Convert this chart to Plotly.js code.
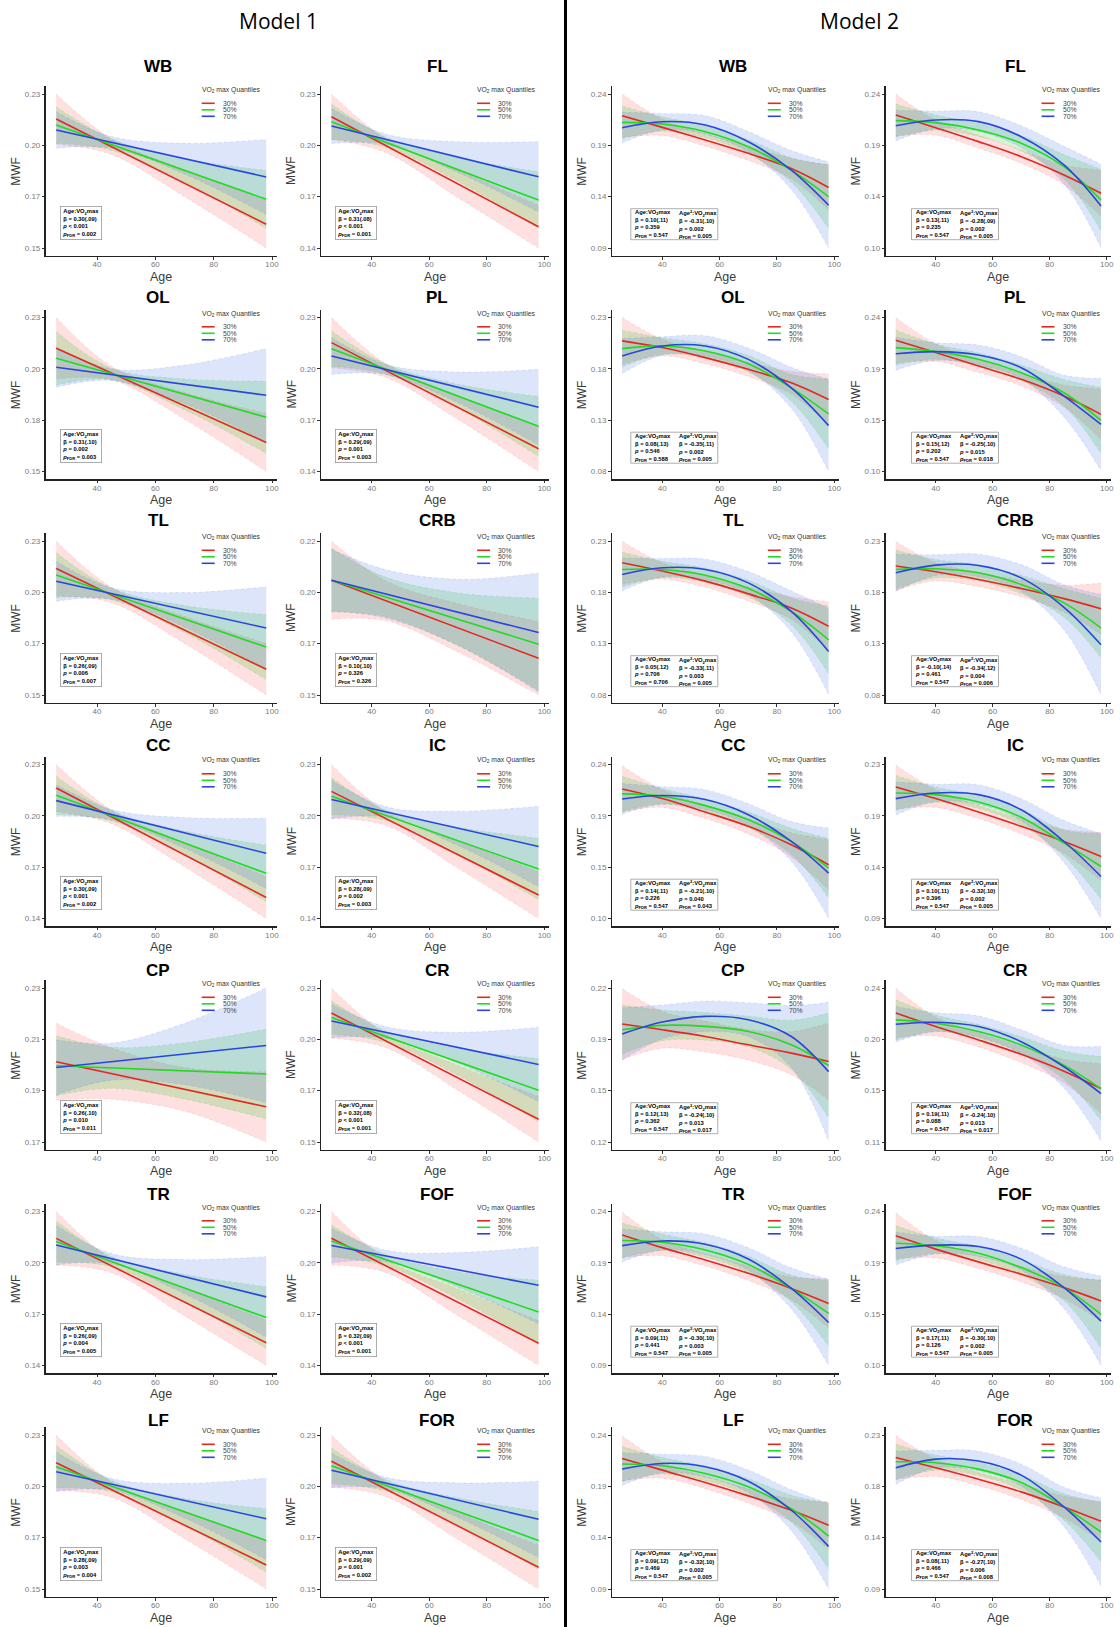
<!DOCTYPE html>
<html><head><meta charset="utf-8">
<script src="https://cdn.plot.ly/plotly-3.0.1.min.js"></script>
<style>html,body{margin:0;padding:0;background:#fff}#chart{width:1120px;height:1627px}</style>
</head><body><div id="chart"></div>
<script>
// ---------------- DATA ----------------
const regions = ['WB','FL','OL','PL','TL','CRB','CC','IC','CP','CR','TR','FOF','LF','FOR'];
const quantiles = ['30%','50%','70%'];
const ageLine1 = [26, 98];              // Model 1 fitted lines (linear)
const ageBand1 = [26, 45, 70, 98];      // Model 1 confidence bands
const ageCurve2 = [26, 40, 55, 70, 85, 98]; // Model 2 fits and bands

// Model 1: rows = [30%, 50%, 70%]
const m1WB_fit = [[0.2170,0.1623],[0.2139,0.1753],[0.2113,0.1869]];
const m1WB_lo  = [[0.2040,0.1986,0.1766,0.1500],[0.2044,0.2007,0.1843,0.1603],[0.2018,0.2019,0.1884,0.1674]];
const m1WB_hi  = [[0.2300,0.2066,0.1906,0.1746],[0.2234,0.2067,0.1963,0.1903],[0.2208,0.2079,0.2044,0.2064]];
const m1WB_ticks = ['0.15','0.17','0.20','0.23'];

const m1FL_fit = [[0.2167,0.1524],[0.2138,0.1680],[0.2113,0.1816]];
const m1FL_lo  = [[0.2034,0.1957,0.1694,0.1400],[0.2035,0.1987,0.1788,0.1514],[0.2010,0.2005,0.1841,0.1611]];
const m1FL_hi  = [[0.2300,0.2037,0.1854,0.1649],[0.2241,0.2047,0.1928,0.1846],[0.2216,0.2065,0.2021,0.2021]];
const m1FL_ticks = ['0.14','0.17','0.20','0.23'];

const m1OL_fit = [[0.2140,0.1651],[0.2088,0.1782],[0.2042,0.1896]];
const m1OL_lo  = [[0.1980,0.1976,0.1771,0.1500],[0.1949,0.1977,0.1821,0.1594],[0.1938,0.1973,0.1853,0.1653]];
const m1OL_hi  = [[0.2300,0.2046,0.1911,0.1802],[0.2227,0.2037,0.1981,0.1970],[0.2146,0.2033,0.2053,0.2139]];
const m1OL_ticks = ['0.15','0.18','0.20','0.23'];

const m1PL_fit = [[0.2153,0.1533],[0.2118,0.1664],[0.2075,0.1776]];
const m1PL_lo  = [[0.2006,0.1949,0.1704,0.1400],[0.2014,0.1968,0.1770,0.1488],[0.1967,0.1966,0.1802,0.1555]];
const m1PL_hi  = [[0.2300,0.2029,0.1844,0.1666],[0.2222,0.2028,0.1910,0.1840],[0.2183,0.2026,0.1982,0.1997]];
const m1PL_ticks = ['0.14','0.17','0.20','0.23'];

const m1TL_fit = [[0.2157,0.1634],[0.2123,0.1749],[0.2091,0.1848]];
const m1TL_lo  = [[0.2014,0.1979,0.1768,0.1500],[0.2006,0.1994,0.1825,0.1580],[0.1987,0.1997,0.1852,0.1634]];
const m1TL_hi  = [[0.2300,0.2059,0.1908,0.1768],[0.2240,0.2054,0.1965,0.1918],[0.2195,0.2057,0.2032,0.2062]];
const m1TL_ticks = ['0.15','0.17','0.20','0.23'];

const m1CRB_fit = [[0.2022,0.1667],[0.2022,0.1731],[0.2022,0.1784]];
const m1CRB_lo  = [[0.1844,0.1838,0.1695,0.1500],[0.1877,0.1855,0.1724,0.1521],[0.1882,0.1849,0.1726,0.1514]];
const m1CRB_hi  = [[0.2200,0.2018,0.1915,0.1834],[0.2167,0.2035,0.1964,0.1941],[0.2162,0.2069,0.2026,0.2054]];
const m1CRB_ticks = ['0.15','0.17','0.20','0.22'];

const m1CC_fit = [[0.2163,0.1523],[0.2120,0.1664],[0.2089,0.1781]];
const m1CC_lo  = [[0.2026,0.1954,0.1702,0.1400],[0.2008,0.1970,0.1771,0.1498],[0.1997,0.1977,0.1810,0.1576]];
const m1CC_hi  = [[0.2300,0.2034,0.1842,0.1646],[0.2232,0.2030,0.1911,0.1830],[0.2181,0.2037,0.1990,0.1986]];
const m1CC_ticks = ['0.14','0.17','0.20','0.23'];

const m1IC_fit = [[0.2143,0.1537],[0.2114,0.1689],[0.2095,0.1821]];
const m1IC_lo  = [[0.1986,0.1943,0.1693,0.1400],[0.2006,0.1972,0.1774,0.1509],[0.1982,0.1993,0.1827,0.1586]];
const m1IC_hi  = [[0.2300,0.2023,0.1853,0.1674],[0.2222,0.2032,0.1934,0.1869],[0.2208,0.2053,0.2027,0.2056]];
const m1IC_ticks = ['0.14','0.17','0.20','0.23'];

const m1CP_fit = [[0.2013,0.1837],[0.1997,0.1965],[0.1990,0.2076]];
const m1CP_lo  = [[0.1863,0.1867,0.1820,0.1700],[0.1880,0.1909,0.1867,0.1790],[0.1883,0.1941,0.1923,0.1853]];
const m1CP_hi  = [[0.2163,0.2067,0.1990,0.1974],[0.2114,0.2069,0.2087,0.2140],[0.2097,0.2085,0.2163,0.2300]];
const m1CP_ticks = ['0.17','0.19','0.21','0.23'];

const m1CR_fit = [[0.2170,0.1618],[0.2147,0.1769],[0.2129,0.1903]];
const m1CR_lo  = [[0.2040,0.1989,0.1768,0.1500],[0.2060,0.2017,0.1846,0.1604],[0.2042,0.2039,0.1910,0.1710]];
const m1CR_hi  = [[0.2300,0.2059,0.1898,0.1736],[0.2234,0.2077,0.1986,0.1934],[0.2216,0.2099,0.2070,0.2096]];
const m1CR_ticks = ['0.15','0.17','0.20','0.23'];

const m1TR_fit = [[0.2143,0.1533],[0.2124,0.1680],[0.2104,0.1801]];
const m1TR_lo  = [[0.1986,0.1942,0.1690,0.1400],[0.2003,0.1977,0.1773,0.1500],[0.1988,0.1994,0.1819,0.1566]];
const m1TR_hi  = [[0.2300,0.2022,0.1850,0.1666],[0.2245,0.2037,0.1933,0.1860],[0.2220,0.2054,0.2019,0.2036]];
const m1TR_ticks = ['0.14','0.17','0.20','0.23'];

const m1FOF_fit = [[0.2061,0.1516],[0.2047,0.1678],[0.2023,0.1817]];
const m1FOF_lo  = [[0.1922,0.1882,0.1658,0.1400],[0.1964,0.1917,0.1746,0.1513],[0.1933,0.1939,0.1807,0.1617]];
const m1FOF_hi  = [[0.2200,0.1952,0.1798,0.1633],[0.2130,0.1977,0.1886,0.1843],[0.2113,0.1999,0.1987,0.2017]];
const m1FOF_ticks = ['0.14','0.17','0.20','0.22'];

const m1LF_fit = [[0.2156,0.1625],[0.2135,0.1752],[0.2109,0.1865]];
const m1LF_lo  = [[0.2012,0.1976,0.1761,0.1500],[0.2025,0.2004,0.1830,0.1587],[0.2006,0.2014,0.1869,0.1653]];
const m1LF_hi  = [[0.2300,0.2056,0.1901,0.1750],[0.2245,0.2064,0.1970,0.1917],[0.2212,0.2074,0.2049,0.2077]];
const m1LF_ticks = ['0.15','0.17','0.20','0.23'];

const m1FOR_fit = [[0.2164,0.1613],[0.2140,0.1752],[0.2117,0.1862]];
const m1FOR_lo  = [[0.2028,0.1979,0.1757,0.1500],[0.2046,0.2008,0.1833,0.1601],[0.2027,0.2020,0.1871,0.1664]];
const m1FOR_hi  = [[0.2300,0.2059,0.1897,0.1726],[0.2234,0.2068,0.1973,0.1903],[0.2207,0.2080,0.2051,0.2060]];
const m1FOR_ticks = ['0.15','0.17','0.20','0.23'];

// Model 2: rows = [30%, 50%, 70%], at ageCurve2
const m2WB_fit = [[0.2189,0.2075,0.1952,0.1822,0.1675,0.1490],[0.2124,0.2108,0.2033,0.1887,0.1659,0.1400],[0.2072,0.2130,0.2098,0.1935,0.1659,0.1318]];
const m2WB_lo  = [[0.1979,0.1995,0.1892,0.1752,0.1575,0.1270],[0.1964,0.2038,0.1973,0.1817,0.1539,0.1090],[0.1922,0.2050,0.2008,0.1835,0.1469,0.0900]];
const m2WB_hi  = [[0.2400,0.2155,0.2012,0.1892,0.1775,0.1710],[0.2284,0.2178,0.2093,0.1957,0.1779,0.1710],[0.2222,0.2210,0.2188,0.2035,0.1849,0.1738]];
const m2WB_ticks = ['0.09','0.14','0.19','0.24'];

const m2FL_fit = [[0.2209,0.2094,0.1967,0.1830,0.1664,0.1497],[0.2158,0.2140,0.2073,0.1952,0.1740,0.1436],[0.2112,0.2164,0.2149,0.2012,0.1755,0.1382]];
const m2FL_lo  = [[0.2019,0.2024,0.1907,0.1770,0.1574,0.1287],[0.2008,0.2070,0.2013,0.1882,0.1630,0.1156],[0.1972,0.2084,0.2059,0.1912,0.1585,0.1002]];
const m2FL_hi  = [[0.2400,0.2164,0.2027,0.1890,0.1754,0.1707],[0.2308,0.2210,0.2133,0.2022,0.1850,0.1716],[0.2252,0.2244,0.2239,0.2112,0.1925,0.1762]];
const m2FL_ticks = ['0.10','0.14','0.19','0.24'];

const m2OL_fit = [[0.2072,0.2007,0.1909,0.1795,0.1664,0.1501],[0.1997,0.2023,0.1974,0.1850,0.1615,0.1361],[0.1925,0.2023,0.2023,0.1892,0.1615,0.1247]];
const m2OL_lo  = [[0.1842,0.1927,0.1849,0.1725,0.1554,0.1251],[0.1817,0.1943,0.1904,0.1770,0.1485,0.1021],[0.1755,0.1933,0.1923,0.1782,0.1415,0.0800]];
const m2OL_hi  = [[0.2300,0.2087,0.1969,0.1865,0.1774,0.1751],[0.2177,0.2103,0.2044,0.1930,0.1745,0.1701],[0.2095,0.2113,0.2123,0.2002,0.1815,0.1697]];
const m2OL_ticks = ['0.08','0.13','0.18','0.23'];

const m2PL_fit = [[0.2193,0.2081,0.1959,0.1838,0.1686,0.1519],[0.2126,0.2090,0.2020,0.1898,0.1716,0.1464],[0.2071,0.2090,0.2059,0.1944,0.1686,0.1428]];
const m2PL_lo  = [[0.1983,0.2001,0.1899,0.1778,0.1586,0.1289],[0.1966,0.2020,0.1960,0.1828,0.1596,0.1164],[0.1921,0.2010,0.1969,0.1844,0.1496,0.1008]];
const m2PL_hi  = [[0.2400,0.2161,0.2019,0.1898,0.1786,0.1749],[0.2286,0.2160,0.2080,0.1968,0.1836,0.1764],[0.2221,0.2170,0.2149,0.2044,0.1876,0.1848]];
const m2PL_ticks = ['0.10','0.15','0.19','0.24'];

const m2TL_fit = [[0.2088,0.2007,0.1909,0.1785,0.1648,0.1469],[0.2023,0.2023,0.1967,0.1837,0.1615,0.1338],[0.1974,0.2039,0.2023,0.1892,0.1615,0.1224]];
const m2TL_lo  = [[0.1878,0.1927,0.1849,0.1715,0.1538,0.1229],[0.1853,0.1943,0.1897,0.1757,0.1485,0.1008],[0.1814,0.1949,0.1923,0.1782,0.1415,0.0804]];
const m2TL_hi  = [[0.2298,0.2087,0.1969,0.1855,0.1758,0.1709],[0.2193,0.2103,0.2037,0.1917,0.1745,0.1668],[0.2134,0.2129,0.2123,0.2002,0.1815,0.1644]];
const m2TL_ticks = ['0.08','0.13','0.18','0.23'];

const m2CRB_fit = [[0.2056,0.2000,0.1925,0.1837,0.1739,0.1641],[0.2023,0.2029,0.1990,0.1876,0.1697,0.1452],[0.1990,0.2065,0.2062,0.1941,0.1654,0.1289]];
const m2CRB_lo  = [[0.1816,0.1910,0.1855,0.1757,0.1609,0.1391],[0.1833,0.1939,0.1910,0.1786,0.1557,0.1162],[0.1810,0.1965,0.1952,0.1811,0.1434,0.0800]];
const m2CRB_hi  = [[0.2296,0.2090,0.1995,0.1917,0.1869,0.1891],[0.2213,0.2119,0.2070,0.1966,0.1837,0.1742],[0.2170,0.2165,0.2172,0.2071,0.1874,0.1779]];
const m2CRB_ticks = ['0.08','0.13','0.18','0.23'];

const m2CC_fit = [[0.2178,0.2090,0.1968,0.1838,0.1670,0.1488],[0.2133,0.2111,0.2026,0.1898,0.1701,0.1458],[0.2087,0.2118,0.2081,0.1944,0.1701,0.1413]];
const m2CC_lo  = [[0.1968,0.2010,0.1908,0.1768,0.1560,0.1258],[0.1973,0.2041,0.1966,0.1828,0.1581,0.1188],[0.1947,0.2038,0.1991,0.1844,0.1521,0.1003]];
const m2CC_hi  = [[0.2388,0.2170,0.2028,0.1908,0.1780,0.1718],[0.2293,0.2181,0.2086,0.1968,0.1821,0.1728],[0.2227,0.2198,0.2171,0.2044,0.1881,0.1823]];
const m2CC_ticks = ['0.10','0.15','0.19','0.24'];

const m2IC_fit = [[0.2096,0.1990,0.1868,0.1738,0.1600,0.1464],[0.2041,0.2026,0.1959,0.1820,0.1585,0.1373],[0.1990,0.2041,0.2026,0.1889,0.1600,0.1282]];
const m2IC_lo  = [[0.1896,0.1910,0.1808,0.1668,0.1490,0.1244],[0.1881,0.1956,0.1899,0.1750,0.1465,0.1073],[0.1840,0.1961,0.1936,0.1789,0.1410,0.0900]];
const m2IC_hi  = [[0.2296,0.2070,0.1928,0.1808,0.1710,0.1684],[0.2201,0.2096,0.2019,0.1890,0.1705,0.1673],[0.2140,0.2121,0.2116,0.1989,0.1790,0.1672]];
const m2IC_ticks = ['0.09','0.14','0.19','0.23'];

const m2CP_fit = [[0.1966,0.1929,0.1885,0.1831,0.1777,0.1723],[0.1929,0.1957,0.1951,0.1918,0.1831,0.1697],[0.1901,0.1979,0.2016,0.1994,0.1885,0.1657]];
const m2CP_lo  = [[0.1736,0.1809,0.1785,0.1731,0.1637,0.1473],[0.1769,0.1857,0.1861,0.1818,0.1671,0.1357],[0.1731,0.1869,0.1916,0.1884,0.1685,0.1207]];
const m2CP_hi  = [[0.2196,0.2049,0.1985,0.1931,0.1917,0.1973],[0.2089,0.2057,0.2041,0.2018,0.1991,0.2037],[0.2071,0.2089,0.2116,0.2104,0.2085,0.2107]];
const m2CP_ticks = ['0.12','0.15','0.19','0.22'];

const m2CR_fit = [[0.2188,0.2075,0.1962,0.1840,0.1698,0.1551],[0.2131,0.2103,0.2033,0.1919,0.1749,0.1551],[0.2094,0.2111,0.2075,0.1947,0.1735,0.1509]];
const m2CR_lo  = [[0.1978,0.1995,0.1902,0.1770,0.1598,0.1341],[0.1961,0.2033,0.1973,0.1849,0.1629,0.1281],[0.1944,0.2031,0.1985,0.1847,0.1555,0.1109]];
const m2CR_hi  = [[0.2398,0.2155,0.2022,0.1910,0.1798,0.1761],[0.2301,0.2173,0.2093,0.1989,0.1869,0.1821],[0.2244,0.2191,0.2165,0.2047,0.1915,0.1909]];
const m2CR_ticks = ['0.11','0.15','0.20','0.24'];

const m2TR_fit = [[0.2172,0.2048,0.1928,0.1798,0.1651,0.1505],[0.2117,0.2100,0.2025,0.1885,0.1651,0.1407],[0.2068,0.2113,0.2081,0.1937,0.1651,0.1319]];
const m2TR_lo  = [[0.1952,0.1968,0.1868,0.1728,0.1541,0.1265],[0.1947,0.2020,0.1955,0.1805,0.1521,0.1087],[0.1908,0.2023,0.1981,0.1827,0.1451,0.0900]];
const m2TR_hi  = [[0.2392,0.2128,0.1988,0.1868,0.1761,0.1745],[0.2287,0.2180,0.2095,0.1965,0.1781,0.1727],[0.2228,0.2203,0.2181,0.2047,0.1851,0.1739]];
const m2TR_ticks = ['0.09','0.14','0.19','0.24'];

const m2FOF_fit = [[0.2179,0.2058,0.1942,0.1830,0.1708,0.1587],[0.2112,0.2088,0.2021,0.1890,0.1708,0.1465],[0.2064,0.2094,0.2082,0.1967,0.1708,0.1404]];
const m2FOF_lo  = [[0.1969,0.1978,0.1882,0.1760,0.1608,0.1397],[0.1952,0.2018,0.1961,0.1820,0.1588,0.1155],[0.1914,0.2014,0.1992,0.1867,0.1518,0.1000]];
const m2FOF_hi  = [[0.2389,0.2138,0.2002,0.1900,0.1808,0.1777],[0.2272,0.2158,0.2081,0.1960,0.1828,0.1775],[0.2214,0.2174,0.2172,0.2067,0.1898,0.1814]];
const m2FOF_ticks = ['0.10','0.15','0.19','0.24'];

const m2LF_fit = [[0.2172,0.2058,0.1937,0.1807,0.1667,0.1521],[0.2117,0.2100,0.2025,0.1895,0.1683,0.1416],[0.2068,0.2123,0.2091,0.1950,0.1667,0.1315]];
const m2LF_lo  = [[0.1952,0.1978,0.1877,0.1737,0.1557,0.1291],[0.1947,0.2020,0.1955,0.1815,0.1553,0.1096],[0.1908,0.2033,0.1991,0.1840,0.1467,0.0900]];
const m2LF_hi  = [[0.2392,0.2138,0.1997,0.1877,0.1777,0.1751],[0.2287,0.2180,0.2095,0.1975,0.1813,0.1736],[0.2228,0.2213,0.2191,0.2060,0.1867,0.1735]];
const m2LF_ticks = ['0.09','0.14','0.19','0.24'];

const m2FOR_fit = [[0.2096,0.2002,0.1898,0.1783,0.1646,0.1515],[0.2057,0.2048,0.1990,0.1868,0.1646,0.1418],[0.2002,0.2081,0.2063,0.1935,0.1646,0.1327]];
const m2FOR_lo  = [[0.1896,0.1922,0.1838,0.1713,0.1546,0.1335],[0.1897,0.1978,0.1930,0.1798,0.1526,0.1148],[0.1852,0.2001,0.1973,0.1835,0.1466,0.0927]];
const m2FOR_hi  = [[0.2296,0.2082,0.1958,0.1853,0.1746,0.1695],[0.2217,0.2118,0.2050,0.1938,0.1766,0.1688],[0.2152,0.2161,0.2153,0.2035,0.1826,0.1727]];
const m2FOR_ticks = ['0.09','0.14','0.18','0.23'];

// Statistics text
const m1Beta = ['0.30(.09)','0.31(.08)','0.31(.10)','0.29(.09)','0.26(.09)','0.10(.10)','0.30(.09)','0.28(.09)','0.26(.10)','0.32(.08)','0.26(.09)','0.32(.09)','0.28(.09)','0.29(.09)'];
const m1P = ['&lt; 0.001','&lt; 0.001','= 0.002','= 0.001','= 0.006','= 0.326','&lt; 0.001','= 0.002','= 0.010','&lt; 0.001','= 0.004','&lt; 0.001','= 0.003','= 0.001'];
const m1Pfdr = ['0.002','0.001','0.003','0.003','0.007','0.326','0.002','0.003','0.011','0.001','0.005','0.001','0.004','0.002'];
const m2Beta1 = ['0.10(.11)','0.13(.11)','0.08(.13)','0.15(.12)','0.05(.12)','-0.10(.14)','0.14(.11)','0.10(.11)','0.12(.13)','0.19(.11)','0.09(.11)','0.17(.11)','0.09(.12)','0.08(.11)'];
const m2P1 = ['0.359','0.235','0.546','0.202','0.706','0.461','0.226','0.396','0.362','0.088','0.441','0.126','0.469','0.466'];
const m2Pfdr1 = ['0.547','0.547','0.588','0.547','0.706','0.547','0.547','0.547','0.547','0.547','0.547','0.547','0.547','0.547'];
const m2Beta2 = ['-0.31(.10)','-0.28(.09)','-0.35(.11)','-0.25(.10)','-0.33(.11)','-0.34(.12)','-0.21(.10)','-0.32(.10)','-0.24(.10)','-0.24(.10)','-0.30(.10)','-0.30(.10)','-0.32(.10)','-0.27(.10)'];
const m2P2 = ['0.002','0.002','0.002','0.015','0.003','0.004','0.040','0.002','0.013','0.013','0.003','0.002','0.002','0.006'];
const m2Pfdr2 = ['0.005','0.005','0.005','0.018','0.005','0.006','0.043','0.005','0.017','0.017','0.005','0.005','0.005','0.008'];

// ---------------- LOOKUP ----------------
const M1 = {
  WB:[m1WB_fit,m1WB_lo,m1WB_hi,m1WB_ticks], FL:[m1FL_fit,m1FL_lo,m1FL_hi,m1FL_ticks],
  OL:[m1OL_fit,m1OL_lo,m1OL_hi,m1OL_ticks], PL:[m1PL_fit,m1PL_lo,m1PL_hi,m1PL_ticks],
  TL:[m1TL_fit,m1TL_lo,m1TL_hi,m1TL_ticks], CRB:[m1CRB_fit,m1CRB_lo,m1CRB_hi,m1CRB_ticks],
  CC:[m1CC_fit,m1CC_lo,m1CC_hi,m1CC_ticks], IC:[m1IC_fit,m1IC_lo,m1IC_hi,m1IC_ticks],
  CP:[m1CP_fit,m1CP_lo,m1CP_hi,m1CP_ticks], CR:[m1CR_fit,m1CR_lo,m1CR_hi,m1CR_ticks],
  TR:[m1TR_fit,m1TR_lo,m1TR_hi,m1TR_ticks], FOF:[m1FOF_fit,m1FOF_lo,m1FOF_hi,m1FOF_ticks],
  LF:[m1LF_fit,m1LF_lo,m1LF_hi,m1LF_ticks], FOR:[m1FOR_fit,m1FOR_lo,m1FOR_hi,m1FOR_ticks]
};
const M2 = {
  WB:[m2WB_fit,m2WB_lo,m2WB_hi,m2WB_ticks], FL:[m2FL_fit,m2FL_lo,m2FL_hi,m2FL_ticks],
  OL:[m2OL_fit,m2OL_lo,m2OL_hi,m2OL_ticks], PL:[m2PL_fit,m2PL_lo,m2PL_hi,m2PL_ticks],
  TL:[m2TL_fit,m2TL_lo,m2TL_hi,m2TL_ticks], CRB:[m2CRB_fit,m2CRB_lo,m2CRB_hi,m2CRB_ticks],
  CC:[m2CC_fit,m2CC_lo,m2CC_hi,m2CC_ticks], IC:[m2IC_fit,m2IC_lo,m2IC_hi,m2IC_ticks],
  CP:[m2CP_fit,m2CP_lo,m2CP_hi,m2CP_ticks], CR:[m2CR_fit,m2CR_lo,m2CR_hi,m2CR_ticks],
  TR:[m2TR_fit,m2TR_lo,m2TR_hi,m2TR_ticks], FOF:[m2FOF_fit,m2FOF_lo,m2FOF_hi,m2FOF_ticks],
  LF:[m2LF_fit,m2LF_lo,m2LF_hi,m2LF_ticks], FOR:[m2FOR_fit,m2FOR_lo,m2FOR_hi,m2FOR_ticks]
};

// ---------------- LAYOUT GEOMETRY ----------------
const W = 1120, H = 1627;
const colX0 = [45.7, 321.1, 611.8, 885.5];
const colX1 = [276.7, 548.9, 838.9, 1111.3];
const rowTop0 = 86.3, rowBot0 = 255.7, rowPitch = 223.5;
const titleX = [158, 437, 733, 1015];
const titleY = [67, 297, 520, 745, 970, 1194, 1420];
const m2BoxOff = [19, 26];
const px = x => x / W, py = y => 1 - y / H;

const lineColors = ['#e3281f', '#1fdc1f', '#2a44e0'];
const fillColors = ['rgba(250,70,70,0.17)', 'rgba(40,200,40,0.20)', 'rgba(65,110,235,0.18)'];
const edgeColors = ['rgba(235,80,80,0.3)', 'rgba(40,170,40,0.25)', 'rgba(70,110,230,0.3)'];
const FONT = 'Liberation Sans, Arial, sans-serif';

const data = [];
const layout = {
  width: W, height: H, margin: {l:0, r:0, t:0, b:0},
  paper_bgcolor: '#fff', plot_bgcolor: '#fff', showlegend: false, hovermode: false,
  annotations: [], shapes: []
};

function ann(o) { layout.annotations.push(Object.assign({xref:'paper', yref:'paper', showarrow:false}, o)); }

ann({x: px(278.5), y: py(21), text: 'Model 1', font: {family: 'Open Sans, sans-serif', size: 21, color: '#000'}, xanchor: 'center', yanchor: 'middle'});
ann({x: px(859), y: py(21), text: 'Model 2', font: {family: 'Open Sans, sans-serif', size: 21, color: '#000'}, xanchor: 'center', yanchor: 'middle'});
layout.shapes.push({type: 'line', xref: 'paper', yref: 'paper', x0: px(565.5), x1: px(565.5), y0: 0, y1: 1, line: {color: '#000', width: 3}});

let n = 0;
[M1, M2].forEach((M, m) => {
  regions.forEach((reg, r) => {
    n++;
    const row = Math.floor(r / 2), col = m * 2 + (r % 2);
    const x0 = colX0[col], x1 = colX1[col];
    const top = rowTop0 + rowPitch * row, bot = rowBot0 + rowPitch * row;
    const [fit, lo, hi, ticks] = M[reg];
    const tLo = parseFloat(ticks[0]), tHi = parseFloat(ticks[ticks.length - 1]);
    const span = tHi - tLo;
    const tickvals = ticks.map((t, i) => tLo + span * i / (ticks.length - 1));
    const xa = n === 1 ? 'x' : 'x' + n, ya = n === 1 ? 'y' : 'y' + n;
    const bandAges = m === 0 ? ageBand1 : ageCurve2;
    const fitAges = m === 0 ? ageLine1 : ageCurve2;

    for (let s = 0; s < 3; s++) {
      data.push({x: bandAges, y: lo[s], xaxis: xa, yaxis: ya, type: 'scatter', mode: 'lines',
        line: {color: edgeColors[s], width: 0.5, dash: 'dot', shape: 'spline'}, hoverinfo: 'skip'});
      data.push({x: bandAges, y: hi[s], xaxis: xa, yaxis: ya, type: 'scatter', mode: 'lines', fill: 'tonexty',
        fillcolor: fillColors[s], line: {color: edgeColors[s], width: 0.5, dash: 'dot', shape: 'spline'}, hoverinfo: 'skip'});
    }
    for (let s = 0; s < 3; s++) {
      data.push({x: fitAges, y: fit[s], xaxis: xa, yaxis: ya, type: 'scatter', mode: 'lines', name: quantiles[s],
        line: {color: lineColors[s], width: 1.6, shape: m === 0 ? 'linear' : 'spline'}});
    }

    const axCommon = {showline: true, linecolor: '#222', linewidth: 1.3, ticks: 'outside', ticklen: 2.5,
      tickcolor: '#333', tickwidth: 1, showgrid: false, zeroline: false, fixedrange: true,
      tickfont: {family: FONT, size: 8, color: '#7a7a7a'}};
    layout['xaxis' + (n === 1 ? '' : n)] = Object.assign({}, axCommon, {
      domain: [px(x0), px(x1)], range: [22.4, 101.6], tickvals: [40, 60, 80, 100], anchor: ya,
      ticklabelstandoff: -2});
    layout['yaxis' + (n === 1 ? '' : n)] = Object.assign({}, axCommon, {
      domain: [py(bot), py(top)], range: [tLo - 0.05 * span, tHi + 0.05 * span],
      tickvals: tickvals, ticktext: ticks, anchor: xa});

    // titles / axis labels
    ann({x: px(titleX[col]), y: py(titleY[row]), text: '<b>' + reg + '</b>', font: {family: FONT, size: 17, color: '#000'}, xanchor: 'center', yanchor: 'middle'});
    ann({x: px((x0 + x1) / 2), y: py(bot + 21), text: 'Age', font: {family: FONT, size: 12.5, color: '#3a3a3a'}, xanchor: 'center', yanchor: 'middle'});
    ann({x: px(x0 - 30), y: py((top + bot) / 2), text: 'MWF', textangle: -90, font: {family: FONT, size: 12, color: '#3a3a3a'}, xanchor: 'center', yanchor: 'middle'});

    // legend
    ann({x: px(x0 + 154), y: py(top + 3.7), text: 'VO<sub>2</sub> max Quantiles', font: {family: FONT, size: 6.8, color: '#333'}, xanchor: 'left', yanchor: 'middle'});
    const keyY = [17, 23.5, 30];
    for (let s = 0; s < 3; s++) {
      layout.shapes.push({type: 'line', xref: 'paper', yref: 'paper', x0: px(x0 + 156), x1: px(x0 + 169),
        y0: py(top + keyY[s]), y1: py(top + keyY[s]), line: {color: lineColors[s], width: 1.6}});
      ann({x: px(x0 + 175), y: py(top + keyY[s]), text: quantiles[s], font: {family: FONT, size: 6.8, color: '#444'}, xanchor: 'left', yanchor: 'middle'});
    }

    // statistics box
    const sf = {family: FONT, size: 5.8, color: '#000'};
    if (m === 0) {
      const txt = '<b>Age:VO<sub>2</sub>max</b><br><b>β = ' + m1Beta[r] + '</b><br><b><i>p</i> ' + m1P[r] +
        '</b><br><b><i>p</i><sub>FDR</sub> = ' + m1Pfdr[r] + '</b>';
      ann({x: px(x0 + 14), y: py(bot - 16), text: txt, align: 'left', font: sf, xanchor: 'left', yanchor: 'bottom',
        bgcolor: '#fff', bordercolor: '#999', borderwidth: 0.8, borderpad: 1.5});
    } else {
      const bx = x0 + m2BoxOff[col - 2];
      layout.shapes.push({type: 'rect', xref: 'paper', yref: 'paper', x0: px(bx), x1: px(bx + 87),
        y0: py(bot - 16), y1: py(bot - 47), fillcolor: '#fff', line: {color: '#999', width: 0.8}});
      const t1 = '<b>Age:VO<sub>2</sub>max</b><br><b>β = ' + m2Beta1[r] + '</b><br><b><i>p</i> = ' + m2P1[r] +
        '</b><br><b><i>p</i><sub>FDR</sub> = ' + m2Pfdr1[r] + '</b>';
      const t2 = '<b>Age<sup>2</sup>:VO<sub>2</sub>max</b><br><b>β = ' + m2Beta2[r] + '</b><br><b><i>p</i> = ' + m2P2[r] +
        '</b><br><b><i>p</i><sub>FDR</sub> = ' + m2Pfdr2[r] + '</b>';
      ann({x: px(bx + 1.5), y: py(bot - 31.5), text: t1, align: 'left', font: sf, xanchor: 'left', yanchor: 'middle'});
      ann({x: px(bx + 45.5), y: py(bot - 31.5), text: t2, align: 'left', font: sf, xanchor: 'left', yanchor: 'middle'});
    }
  });
});

Plotly.newPlot('chart', data, layout, {staticPlot: true, displayModeBar: false});
</script></body></html>
